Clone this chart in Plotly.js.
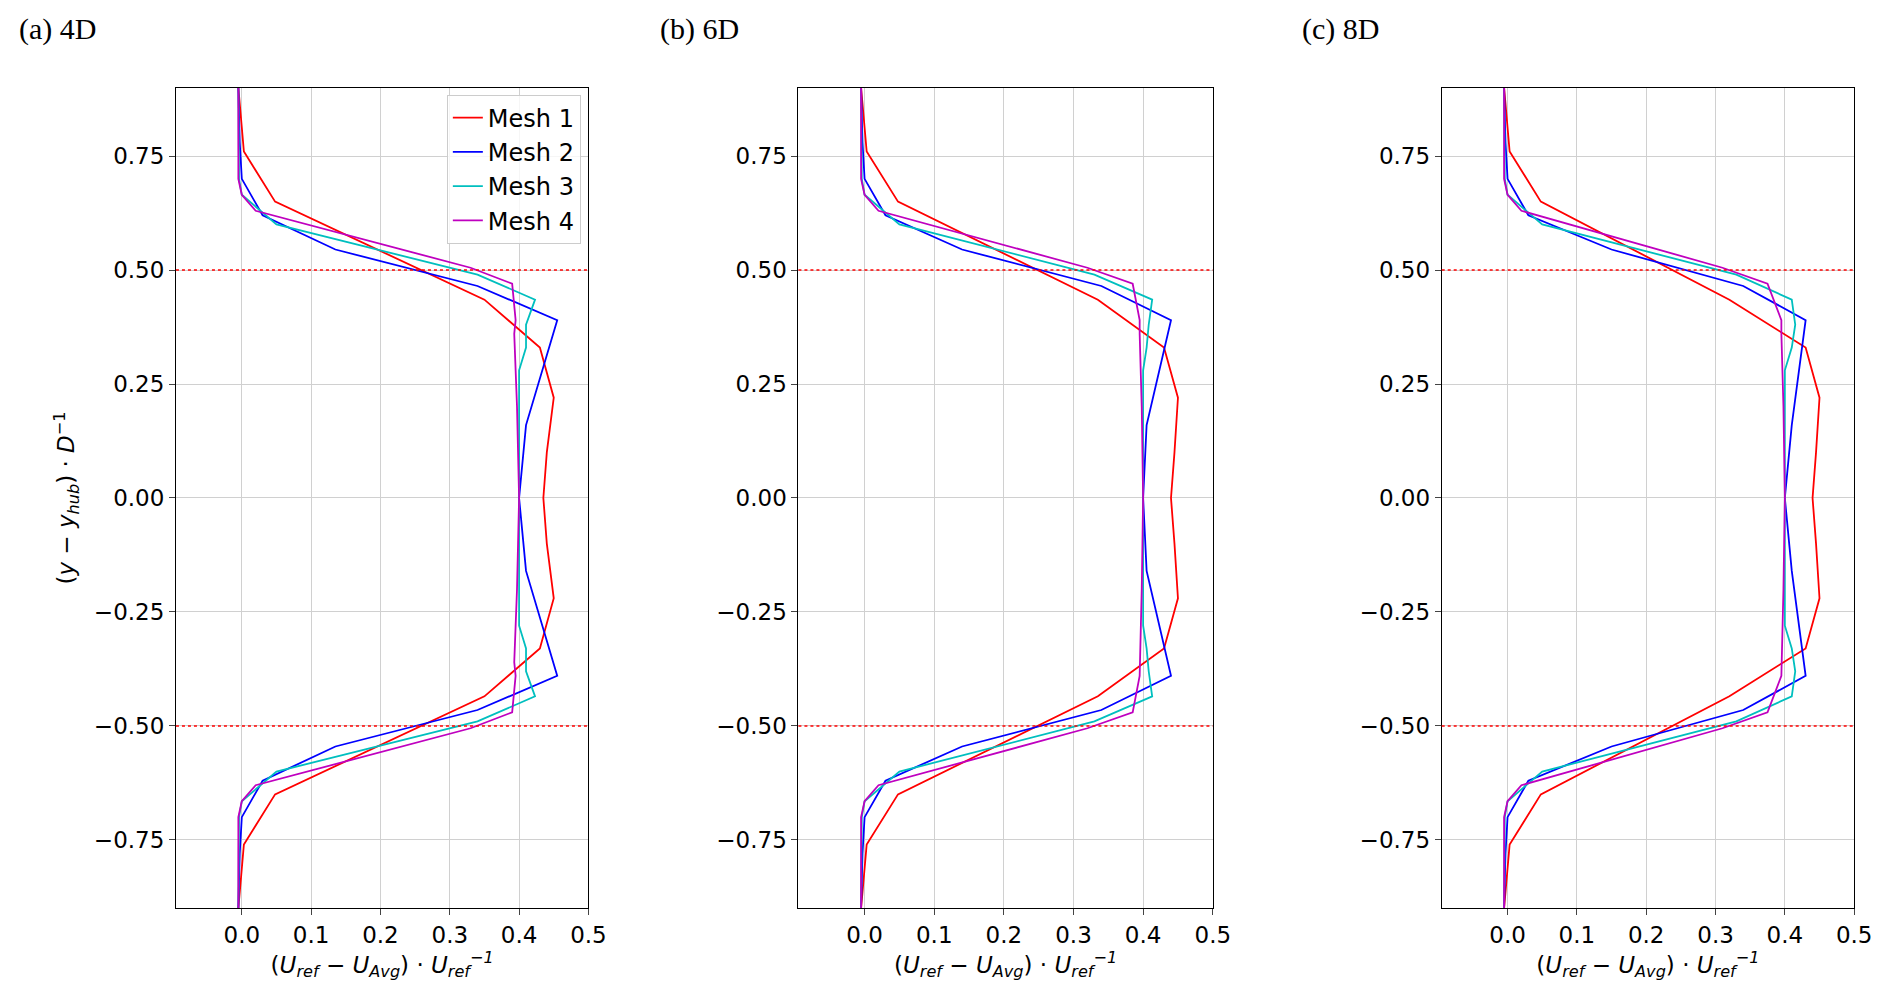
<!DOCTYPE html><html><head><script src="https://cdn.plot.ly/plotly-3.0.1.min.js"></script></head><body style="margin:0"><div id="g" style="width:1892px;height:996px"></div><script>
const panels=["(a) 4D","(b) 6D","(c) 8D"];
const meshNames=["Mesh 1","Mesh 2","Mesh 3","Mesh 4"];
const colors=["#ff0000","#0000ff","#00bfbf","#bf00bf"];
const y1=[0.9,0.76,0.65,0.435,0.33,0.22,0.1,0.0,-0.1,-0.22,-0.33,-0.435,-0.65,-0.76,-0.9];
const y2=[0.9,0.78,0.70,0.62,0.545,0.465,0.39,0.16,0.0,-0.16,-0.39,-0.465,-0.545,-0.62,-0.70,-0.78,-0.9];
const y3=[0.9,0.70,0.665,0.60,0.49,0.435,0.38,0.33,0.28,0.0,-0.28,-0.33,-0.38,-0.435,-0.49,-0.60,-0.665,-0.70,-0.9];
const y4=[0.9,0.70,0.665,0.63,0.505,0.47,0.39,0.36,0.2,0.0,-0.2,-0.36,-0.39,-0.47,-0.505,-0.63,-0.665,-0.70,-0.9];
const a1=[-0.005,0.003,0.048,0.35,0.43,0.45,0.44,0.435,0.44,0.45,0.43,0.35,0.048,0.003,-0.005];
const a2=[-0.005,-0.003,0.0,0.03,0.135,0.34,0.455,0.41,0.40,0.41,0.455,0.34,0.135,0.03,0.0,-0.003,-0.005];
const a3=[-0.005,-0.004,0.0,0.05,0.34,0.423,0.41,0.41,0.40,0.40,0.40,0.41,0.41,0.423,0.34,0.05,0.0,-0.004,-0.005];
const a4=[-0.005,-0.005,0.0,0.02,0.33,0.39,0.395,0.393,0.397,0.40,0.397,0.393,0.395,0.39,0.33,0.02,0.0,-0.005,-0.005];
const b1=[-0.005,0.003,0.048,0.335,0.43,0.45,0.445,0.44,0.445,0.45,0.43,0.335,0.048,0.003,-0.005];
const b2=[-0.005,-0.003,0.0,0.03,0.14,0.34,0.44,0.405,0.40,0.405,0.44,0.34,0.14,0.03,0.0,-0.003,-0.005];
const b3=[-0.005,-0.004,0.0,0.05,0.33,0.413,0.408,0.405,0.40,0.40,0.40,0.405,0.408,0.413,0.33,0.05,0.0,-0.004,-0.005];
const b4=[-0.005,-0.005,0.0,0.02,0.32,0.385,0.395,0.395,0.398,0.40,0.398,0.395,0.395,0.385,0.32,0.02,0.0,-0.005,-0.005];
const c1=[-0.005,0.003,0.048,0.32,0.43,0.45,0.445,0.44,0.445,0.45,0.43,0.32,0.048,0.003,-0.005];
const c2=[-0.005,-0.003,0.0,0.03,0.15,0.34,0.43,0.41,0.40,0.41,0.43,0.34,0.15,0.03,0.0,-0.003,-0.005];
const c3=[-0.005,-0.004,0.0,0.05,0.33,0.41,0.415,0.41,0.40,0.40,0.40,0.41,0.415,0.41,0.33,0.05,0.0,-0.004,-0.005];
const c4=[-0.005,-0.005,0.0,0.02,0.31,0.375,0.395,0.395,0.398,0.40,0.398,0.395,0.395,0.375,0.31,0.02,0.0,-0.005,-0.005];
const ys=[y1,y2,y3,y4];
const xs=[[a1,a2,a3,a4],[b1,b2,b3,b4],[c1,c2,c3,c4]];
const doms=[[0.093,0.311],[0.422,0.641],[0.762,0.980]];
const traces=[],layout={width:1892,height:996,margin:{l:0,r:0,t:0,b:0},paper_bgcolor:"#fff",plot_bgcolor:"#fff",showlegend:true,
 legend:{x:0.307,y:0.905,xanchor:"right",yanchor:"top",bordercolor:"#ccc",borderwidth:1,bgcolor:"rgba(255,255,255,0.8)",font:{family:"DejaVu Sans",size:24,color:"#000"},tracegroupgap:0},
 shapes:[],annotations:[]};
const tf={family:"DejaVu Sans",size:23,color:"#000"};
const ttf={family:"DejaVu Sans",size:23,color:"#000"};
for(let p=0;p<3;p++){
 const xa=p?"x"+(p+1):"x", ya=p?"y"+(p+1):"y";
 for(let m=0;m<4;m++) traces.push({type:"scatter",mode:"lines",x:xs[p][m],y:ys[m],xaxis:xa,yaxis:ya,name:meshNames[m],showlegend:p===0,line:{color:colors[m],width:1.8}});
 layout["xaxis"+(p?p+1:"")]={domain:doms[p],anchor:ya,range:[-0.095,0.5],tickvals:[0,0.1,0.2,0.3,0.4,0.5],ticktext:["0.0","0.1","0.2","0.3","0.4","0.5"],showgrid:true,gridcolor:"#d0d0d0",zeroline:false,showline:true,linecolor:"#000",mirror:true,ticks:"outside",ticklen:6,tickfont:tf,
  title:{text:"(<i>U<sub>ref</sub></i> − <i>U<sub>Avg</sub></i>) · <i>U<sub>ref</sub><sup>−1</sup></i>",font:ttf,standoff:2}};
 layout["yaxis"+(p?p+1:"")]={domain:[0.088,0.912],anchor:xa,range:[-0.9,0.9],tickvals:[-0.75,-0.5,-0.25,0,0.25,0.5,0.75],ticktext:["−0.75","−0.50","−0.25","0.00","0.25","0.50","0.75"],showgrid:true,gridcolor:"#d0d0d0",zeroline:false,showline:true,linecolor:"#000",mirror:true,ticks:"outside",ticklen:6,tickfont:tf,
  title:p===0?{text:"(<i>y</i> − <i>y<sub>hub</sub></i>) · <i>D</i><sup>−1</sup>",font:ttf,standoff:12}:undefined};
 for(const v of [0.5,-0.5]) layout.shapes.push({type:"line",xref:(p?"x"+(p+1):"x")+" domain",yref:ya,x0:0,x1:1,y0:v,y1:v,line:{color:"#ff0000",width:1.5,dash:"dot"}});
 layout.annotations.push({text:panels[p],xref:"paper",yref:"paper",x:[0.009,0.348,0.687][p],y:0.99,xanchor:"left",yanchor:"top",showarrow:false,font:{family:"Liberation Serif",size:30,color:"#000"}});
}
Plotly.newPlot("g",traces,layout,{displayModeBar:false});
</script></body></html>
